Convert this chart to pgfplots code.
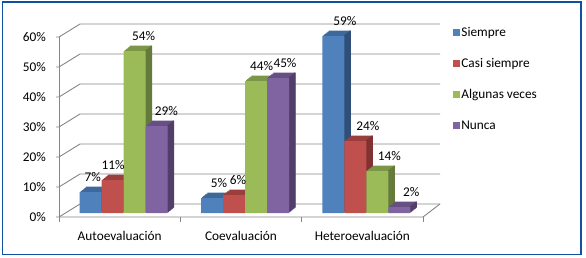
\documentclass[border=0pt]{standalone}
\usepackage{pgfplots}
\usepackage{pgfplotstable}
\pgfplotsset{compat=1.18}
\usepackage{fontspec}
\setmainfont{Carlito}
\definecolor{bA}{HTML}{4F81BD}\definecolor{bAt}{HTML}{3E679A}\definecolor{bAs}{HTML}{2F4E78}
\definecolor{bB}{HTML}{C0504D}\definecolor{bBt}{HTML}{9B3F3D}\definecolor{bBs}{HTML}{7F3231}
\definecolor{bC}{HTML}{9BBB59}\definecolor{bCt}{HTML}{7C9647}\definecolor{bCs}{HTML}{647A3A}
\definecolor{bD}{HTML}{8064A2}\definecolor{bDt}{HTML}{664F82}\definecolor{bDs}{HTML}{523F69}
\definecolor{gridc}{HTML}{868686}
\definecolor{frame}{HTML}{1050A0}
\newcommand{\fs}{\fontsize{13.3}{15}\selectfont}

\pgfplotstableread{
x y dx
0.5 7 2
1.5 5 7
2.5 59 11.5
}\tSiempre
\pgfplotstableread{
x y dx
0.5 11 0.5
1.5 6 4
2.5 24 12.5
}\tCasi
\pgfplotstableread{
x y dx
0.5 54 9
1.5 44 5.7
2.5 14 12
}\tAlgunas
\pgfplotstableread{
x y dx
0.5 29 9.7
1.5 45 7
2.5 2 12
}\tNunca

\newcommand{\series}[6]{%
  \pgfplotsinvokeforeach{6,5,...,1}{%
    \addplot[ybar, forget plot, draw=none, fill=#4, bar width=22pt,
      bar shift={#2pt+##1*1.05pt}, yshift={##1*0.883pt}] table[x=x,y=y] {#1};
  }%
  \pgfplotsinvokeforeach{1,...,6}{%
    \addplot[ybar, forget plot, draw=none, fill=#5, bar width=1.5pt,
      bar shift={#2pt+11pt+##1*1.05pt-0.525pt}, yshift={##1*0.883pt}] table[x=x,y=y] {#1};
  }%
  \addplot[ybar, draw=none, fill=#3, bar width=22pt, bar shift={#2pt},
    nodes near coords={\pgfmathprintnumber[assume math mode=true]{\pgfplotspointmeta}\%},
    visualization depends on={\thisrow{dx}\as\dxl},
    every node near coord/.append style={anchor=center, xshift={#2pt+\dxl pt}, yshift=15pt, font=\fs, text=black, inner sep=0pt}
  ] table[x=x,y=y] {#1};
  \addlegendentry{#6}
}

\begin{document}
\begin{tikzpicture}[x=1pt,y=1pt]
\path[use as bounding box] (0,0) rectangle (586,257);
\fill[white] (0,0) rectangle (586,257);
\draw[frame, line width=1.6pt] (2.3,254.7) rectangle (580.7,2.7);

\begin{axis}[at={(59pt,40pt)}, anchor=south west, scale only axis,
  width=364pt, height=180pt, xmin=0, xmax=3, ymin=0, ymax=60,
  axis line style={draw=none}, tick style={draw=none}, clip=false,
  ytick={0,10,...,60}, yticklabel={\pgfmathprintnumber{\tick}\%},
  xtick={0.5,1.5,2.5}, xticklabels={Autoevaluación,Coevaluación,Heteroevaluación},
  /pgf/number format/assume math mode=true,
  ticklabel style={font=\fs, text=black},
  yticklabel style={xshift=-9.5pt},
  xticklabel style={yshift=-10.5pt},
]
\pgfplotsinvokeforeach{0,10,...,60}{%
  \draw[gridc, line width=0.9pt] ([xshift=-3pt]axis cs:0,#1) -- (axis cs:0,#1) -- ([shift={(21pt,13pt)}]axis cs:0,#1) -- ([shift={(17pt,13pt)}]axis cs:3,#1);
}
\draw[gridc, line width=0.9pt] (axis cs:0,0) -- (axis cs:0,60);
\draw[gridc, line width=0.9pt] (axis cs:0,0) -- (axis cs:3,0) -- ([shift={(17pt,13pt)}]axis cs:3,0);
\pgfplotsinvokeforeach{0,1,2,3}{%
  \draw[gridc, line width=0.9pt] (axis cs:#1,0) -- ([yshift=-5pt]axis cs:#1,0);
}
\end{axis}

\begin{axis}[at={(63pt,44pt)}, anchor=south west, scale only axis,
  width=364pt, height=180pt, xmin=0, xmax=3, ymin=0, ymax=60,
  hide axis, clip=false,
  /pgf/number format/assume math mode=true,
  legend image code/.code={\fill[#1,draw=none] (0pt,-3.5pt) rectangle (7pt,3.5pt);},
  legend cell align=left,
  legend style={at={(1.0706,1.045)}, anchor=north west, draw=none, fill=none,
    font=\fs, row sep=15.5pt, inner sep=0pt,
    nodes={text height=9.5pt, text depth=3pt, inner sep=1.5pt},
    /tikz/every even column/.append style={column sep=1pt}},
]
\series{\tSiempre}{-33}{bA}{bAt}{bAs}{Siempre}
\series{\tCasi}{-11}{bB}{bBt}{bBs}{Casi siempre}
\series{\tAlgunas}{11}{bC}{bCt}{bCs}{Algunas veces}
\series{\tNunca}{33}{bD}{bDt}{bDs}{Nunca}
\end{axis}
\end{tikzpicture}
\end{document}
